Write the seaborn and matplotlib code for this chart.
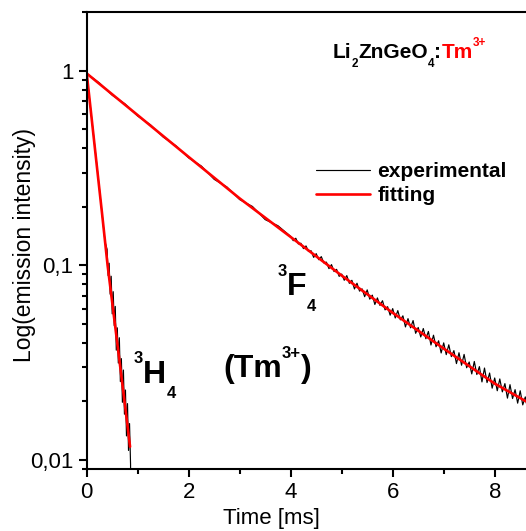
import numpy as np
import pandas as pd
import matplotlib
matplotlib.use("Agg")
import matplotlib.pyplot as plt
import seaborn as sns
from matplotlib.ticker import FixedLocator, FixedFormatter, LogLocator, NullFormatter

# ====================
# data
# ====================
# 3F4 decay, experimental
exp_f_time = [0, 0.25, 0.5, 0.75, 1.0, 1.25, 1.5, 1.75, 2.0, 2.25, 2.5, 2.75, 3.0, 3.25, 3.5, 3.75,
              4.00, 4.05, 4.10, 4.15, 4.20, 4.25, 4.30, 4.35, 4.40, 4.45, 4.50,
              4.55, 4.60, 4.65, 4.70, 4.75, 4.80, 4.85, 4.90, 4.95, 5.00,
              5.05, 5.10, 5.15, 5.20, 5.25, 5.30, 5.35, 5.40, 5.45, 5.50,
              5.55, 5.60, 5.65, 5.70, 5.75, 5.80, 5.85, 5.90, 5.95, 6.00,
              6.05, 6.10, 6.15, 6.20, 6.25, 6.30, 6.35, 6.40, 6.45, 6.50,
              6.55, 6.60, 6.65, 6.70, 6.75, 6.80, 6.85, 6.90, 6.95, 7.00,
              7.05, 7.10, 7.15, 7.20, 7.25, 7.30, 7.35, 7.40, 7.45, 7.50,
              7.55, 7.60, 7.65, 7.70, 7.75, 7.80, 7.85, 7.90, 7.95, 8.00,
              8.05, 8.10, 8.15, 8.20, 8.25, 8.30, 8.35, 8.40, 8.45, 8.50,
              8.55, 8.60, 8.65, 8.70, 8.75]
exp_f_int = [0.970, 0.866, 0.750, 0.677, 0.586, 0.528, 0.457, 0.412, 0.357, 0.324, 0.277, 0.253,
             0.218, 0.201, 0.172, 0.160,
             0.141, 0.134, 0.138, 0.129, 0.130, 0.122, 0.126, 0.118, 0.119, 0.110, 0.115,
             0.107, 0.111, 0.103, 0.104, 0.0963, 0.101, 0.0930, 0.0955, 0.0879, 0.0903,
             0.0839, 0.0887, 0.0809, 0.0839, 0.0757, 0.0810, 0.0738, 0.0758, 0.0691, 0.0749,
             0.0671, 0.0704, 0.0630, 0.0681, 0.0623, 0.0659, 0.0591, 0.0614, 0.0555, 0.0600,
             0.0537, 0.0586, 0.0525, 0.0551, 0.0483, 0.0533, 0.0478, 0.0521, 0.0448, 0.0480,
             0.0429, 0.0474, 0.0420, 0.0458, 0.0390, 0.0438, 0.0382, 0.0410, 0.0355, 0.0400,
             0.0348, 0.0391, 0.0340, 0.0365, 0.0313, 0.0356, 0.0307, 0.0349, 0.0298, 0.0319,
             0.0277, 0.0321, 0.0275, 0.0302, 0.0252, 0.0297, 0.0250, 0.0280, 0.0234, 0.0264,
             0.0227, 0.0261, 0.0224, 0.0247, 0.0208, 0.0244, 0.0207, 0.0230, 0.0196, 0.0227,
             0.0192, 0.0211, 0.0178, 0.0188, 0.0168]

# 3H4 decay, experimental
exp_h_time = [0, 0.1, 0.2, 0.3, 0.36, 0.40, 0.42, 0.44, 0.46, 0.48, 0.50, 0.52, 0.54, 0.56,
              0.58, 0.60, 0.62, 0.64, 0.66, 0.68, 0.70, 0.72, 0.74, 0.76, 0.78, 0.80,
              0.82, 0.84, 0.86, 0.865]
exp_h_int = [0.970, 0.562, 0.326, 0.186, 0.132, 0.121, 0.0887, 0.1027, 0.0712, 0.0880, 0.0564,
             0.0733, 0.0491, 0.0616, 0.0367, 0.0478, 0.0315, 0.0425, 0.0253, 0.0332, 0.0198,
             0.0290, 0.0172, 0.0229, 0.0133, 0.0195, 0.0112, 0.0154, 0.0095, 0.003]

# fitted curves
fit_f_time = [0, 1, 2, 3, 4, 5, 6, 7, 8, 8.8]
fit_f_int = [0.970, 0.592, 0.361, 0.221, 0.140, 0.0887, 0.0571, 0.0374, 0.0247, 0.0188]
fit_h_time = [0, 0.1, 0.2, 0.3, 0.41, 0.5, 0.6, 0.7, 0.8, 0.85]
fit_h_int = [0.973, 0.560, 0.322, 0.186, 0.100, 0.0646, 0.0398, 0.0245, 0.0150, 0.0117]

y_ticks = [0.01, 0.1, 1]
y_tick_labels = ['0,01', '0,1', '1']
x_ticks = [0, 2, 4, 6, 8]

# ====================
# style
# ====================
sns.set_style("ticks")
plt.rcParams['font.family'] = ['Liberation Sans', 'DejaVu Sans']
plt.rcParams['axes.edgecolor'] = 'black'
plt.rcParams['xtick.color'] = 'black'
plt.rcParams['ytick.color'] = 'black'
plt.rcParams['text.color'] = 'black'
plt.rcParams['axes.labelcolor'] = 'black'
plt.rcParams['axes.linewidth'] = 1.5

W, H = 526, 531
fig = plt.figure(figsize=(W / 100, H / 100), dpi=100)
# axes run off the right edge like in the original
ax = fig.add_axes([86.7 / W, 1 - 469.3 / H, 510 / W, (469.3 - 12.3) / H])

RED = '#ff0000'
sns.lineplot(x=exp_f_time, y=exp_f_int, ax=ax, color='black', lw=0.85,
             estimator=None, sort=False, label='experimental')
sns.lineplot(x=exp_h_time, y=exp_h_int, ax=ax, color='black', lw=0.85,
             estimator=None, sort=False)
sns.lineplot(x=fit_f_time, y=fit_f_int, ax=ax, color=RED, lw=1.9,
             estimator=None, sort=False, label='fitting')
sns.lineplot(x=fit_h_time, y=fit_h_int, ax=ax, color=RED, lw=1.9,
             estimator=None, sort=False)

ax.set_yscale('log')
ax.set_xlim(0, 10)
ax.set_ylim(0.00896, 2.0)
ax.yaxis.set_major_locator(FixedLocator(y_ticks))
ax.yaxis.set_major_formatter(FixedFormatter(y_tick_labels))
ax.yaxis.set_minor_locator(LogLocator(base=10, subs=np.arange(2, 10)))
ax.yaxis.set_minor_formatter(NullFormatter())
ax.xaxis.set_major_locator(FixedLocator(x_ticks))
ax.xaxis.set_minor_locator(FixedLocator([1, 3, 5, 7, 9]))

ax.tick_params(which='major', direction='out', length=6, width=1.5, labelsize=16, pad=3.5)
ax.tick_params(which='minor', direction='out', length=3.5, width=1.5)
ax.tick_params(top=False, right=False)
for sp in ax.spines.values():
    sp.set_linewidth(1.5)
    sp.set_visible(True)

ax.set_xlabel('Time [ms]', fontsize=16)
ax.xaxis.set_label_coords(0.363, -0.085)
ax.set_ylabel('Log(emission intensity)', fontsize=16.5)
ax.yaxis.set_label_coords(-0.10, 0.491)

ax.legend(loc='upper left', bbox_to_anchor=(316 / W, 1 - 162 / H), bbox_transform=fig.transFigure,
          frameon=False, prop={'weight': 'bold', 'size': 15}, handlelength=2.6,
          handletextpad=0.35, labelspacing=0.25, borderpad=0, borderaxespad=0)

# ====================
# annotations built from pieces (sub/superscripts)
# ====================
renderer = fig.canvas.get_renderer()


def chain(x, y, parts):
    """x, y: pixel position of baseline start (from top-left)"""
    for s, size, dy, col in parts:
        t = fig.text(x / W, 1 - (y + dy) / H, s, fontsize=size, fontweight='bold',
                     color=col, ha='left', va='baseline')
        x = t.get_window_extent(renderer).x1


chain(333, 58, [('Li', 15, 0, 'black'), ('2', 8.5, 9, 'black'), ('ZnGeO', 15, 0, 'black'),
                ('4', 8.5, 9, 'black'), (':', 15, 0, 'black'), ('Tm', 15, 0, RED),
                ('3+', 8.5, -11.5, RED)])
chain(278, 295, [('3', 12, -19, 'black'), ('F', 23, 0, 'black'), ('4', 12, 16, 'black')])
chain(134, 383, [('3', 12, -20, 'black'), ('H', 23, 0, 'black'), ('4', 12, 15, 'black')])
chain(223, 377, [('(Tm', 23, 0, 'black'), ('3+', 12, -19, 'black'), (')', 23, 0, 'black')])

fig.savefig('out.png', dpi=100)
